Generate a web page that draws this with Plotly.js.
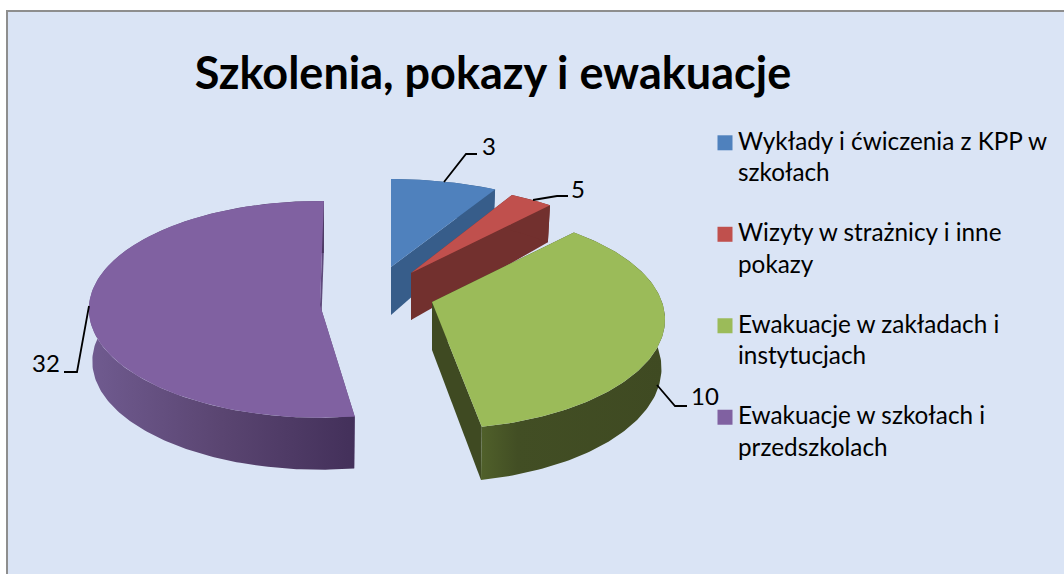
<!DOCTYPE html>
<html>
<head>
<meta charset="utf-8">
<script src="https://cdn.plot.ly/plotly-3.0.1.min.js"></script>
<style>html,body{margin:0;padding:0;background:#fff}#chart{width:1064px;height:574px}</style>
</head>
<body>
<div id="chart"></div>
<script>
const chartTitle = "Szkolenia, pokazy i ewakuacje";
const categories = [
  "Wykłady i ćwiczenia z KPP w<br>szkołach",
  "Wizyty w strażnicy i inne<br>pokazy",
  "Ewakuacje w zakładach i<br>instytucjach",
  "Ewakuacje w szkołach i<br>przedszkolach"
];
const labelValues = [3, 5, 10, 32];
const sliceDegrees = [30, 12.5, 127, 191.5];

const topColors = ["#4f81bd", "#c0504d", "#9bbb59", "#8061a1"];
const wallColors = ["#375d8a", "#72302e", "#3f4a22", "#5f4a7c"];
const wallGradients = [
  null, null,
  [[0, "#50602a"], [0.2, "#424e24"], [1, "#3f4a22"]],
  [[0, "#705b90"], [0.5, "#5a4571"], [1, "#43305a"]]
];

// View geometry of the tilted, exploded pie
const apexX = [391, 411, 432, 320];
const apexY = [267, 273, 302, 305];
const radiusX = [237, 230, 230, 231];
const radiusY = [102, 102.6, 107, 108.2];
const perspective = [0.16, 0.16, 0.16, 0.04];
const depth = [48, 47, 48, 52];
const startTrim = [0, 0, 1, 2.2];
const drawOrder = [0, 1, 3, 2];
const startAngle = -90;

const labelX = [489, 578, 705, 46];
const labelY = [145, 188, 395, 362];
const leaders = [
  "M444,182 L466,154 L477,154",
  "M533,200 L557,196 L568,196",
  "M657,385 L675,406 L687,406",
  "M89,306 L77,372 L64,372"
];

function topPoint(i, deg) {
  const t = deg * Math.PI / 180, u = Math.cos(t), v = Math.sin(t);
  const w = 1 - perspective[i] * v;
  return [apexX[i] + radiusX[i] * u / w, apexY[i] + radiusY[i] * v / w];
}
function bottomPoint(i, deg) {
  const v = Math.sin(deg * Math.PI / 180);
  const p = topPoint(i, deg);
  const m = perspective[i] > 0.1 ? (v < 0 ? 0.29 : 0.11) : 0;
  return [apexX[i] + (p[0] - apexX[i]) * 0.985, p[1] + depth[i] * (1 + m * v)];
}
function arcAngles(a, b) {
  const out = [];
  for (let d = a; d < b; d += 1) out.push(d);
  out.push(b);
  return out;
}
function poly(pts, color, gradient) {
  const tr = {
    type: "scatter", mode: "lines", x: pts.map(p => p[0]), y: pts.map(p => p[1]),
    fill: "toself", line: {width: 0, color: "rgba(0,0,0,0)"},
    showlegend: false, hoverinfo: "skip"
  };
  if (gradient) tr.fillgradient = {type: "horizontal", colorscale: gradient};
  else tr.fillcolor = color;
  return tr;
}

const ranges = [];
let cursor = startAngle;
sliceDegrees.forEach((d, i) => {
  ranges.push([cursor + startTrim[i], cursor + d]);
  cursor += d;
});

const traces = [];
drawOrder.forEach(i => {
  const [a, b] = ranges[i];
  const apexT = [apexX[i], apexY[i]];
  const apexB = [apexX[i], apexY[i] + depth[i]];
  traces.push(poly([apexT, topPoint(i, a), bottomPoint(i, a), apexB], wallColors[i]));
  traces.push(poly([apexT, topPoint(i, b), bottomPoint(i, b), apexB], wallColors[i]));
  const angles = arcAngles(a, b);
  const wall = angles.map(d => topPoint(i, d)).concat(angles.slice().reverse().map(d => bottomPoint(i, d)));
  traces.push(poly(wall, wallColors[i], wallGradients[i]));
  traces.push(poly([apexT].concat(angles.map(d => topPoint(i, d))), topColors[i]));
});

categories.forEach((name, i) => {
  traces.push({
    type: "scatter", mode: "markers", x: [null], y: [null], name: name,
    legendgroup: "g" + i, showlegend: true,
    marker: {symbol: "square", size: 15, color: topColors[i]}
  });
});

const shapes = [{
  type: "rect", xref: "x", yref: "y", x0: 7, y0: 11, x1: 1075, y1: 585,
  fillcolor: "#dae4f5", line: {color: "#8e8e8e", width: 2}, layer: "below"
}].concat(leaders.map(path => ({
  type: "path", xref: "x", yref: "y", path: path, line: {color: "#000000", width: 1.8}, layer: "above"
})));

const annotations = labelValues.map((v, i) => ({
  xref: "x", yref: "y", x: labelX[i], y: labelY[i], text: String(v), showarrow: false,
  xanchor: "center", yanchor: "middle", font: {family: "Lato", size: 24, color: "#000000"}
}));

const layout = {
  width: 1064, height: 574,
  margin: {l: 0, r: 0, t: 0, b: 0, pad: 0},
  paper_bgcolor: "#ffffff", plot_bgcolor: "rgba(0,0,0,0)",
  title: {
    text: "<b>" + chartTitle + "</b>",
    font: {family: "Lato", size: 45, color: "#000000"},
    x: 493 / 1064, xref: "paper", xanchor: "center",
    y: 1 - 73 / 574, yref: "paper", yanchor: "middle"
  },
  xaxis: {range: [0, 1064], visible: false, fixedrange: true},
  yaxis: {range: [574, 0], visible: false, fixedrange: true},
  shapes: shapes,
  annotations: annotations,
  showlegend: true,
  legend: {
    x: 698 / 1064, xanchor: "left", y: 1 - 118 / 574, yanchor: "top",
    bgcolor: "rgba(0,0,0,0)", borderwidth: 0,
    font: {family: "Lato", size: 24.3, color: "#000000"},
    traceorder: "grouped", tracegroupgap: 25.3, valign: "top", itemclick: false, itemdoubleclick: false
  }
};

Plotly.newPlot("chart", traces, layout, {displayModeBar: false, staticPlot: true}).then(() => {
  // The reference sets its legend keys closer to the text than Plotly's default gap.
  document.querySelectorAll("#chart .legend .legendsymbols").forEach(el => {
    el.setAttribute("transform", "translate(7,2.5)");
  });
});
</script>
</body>
</html>
